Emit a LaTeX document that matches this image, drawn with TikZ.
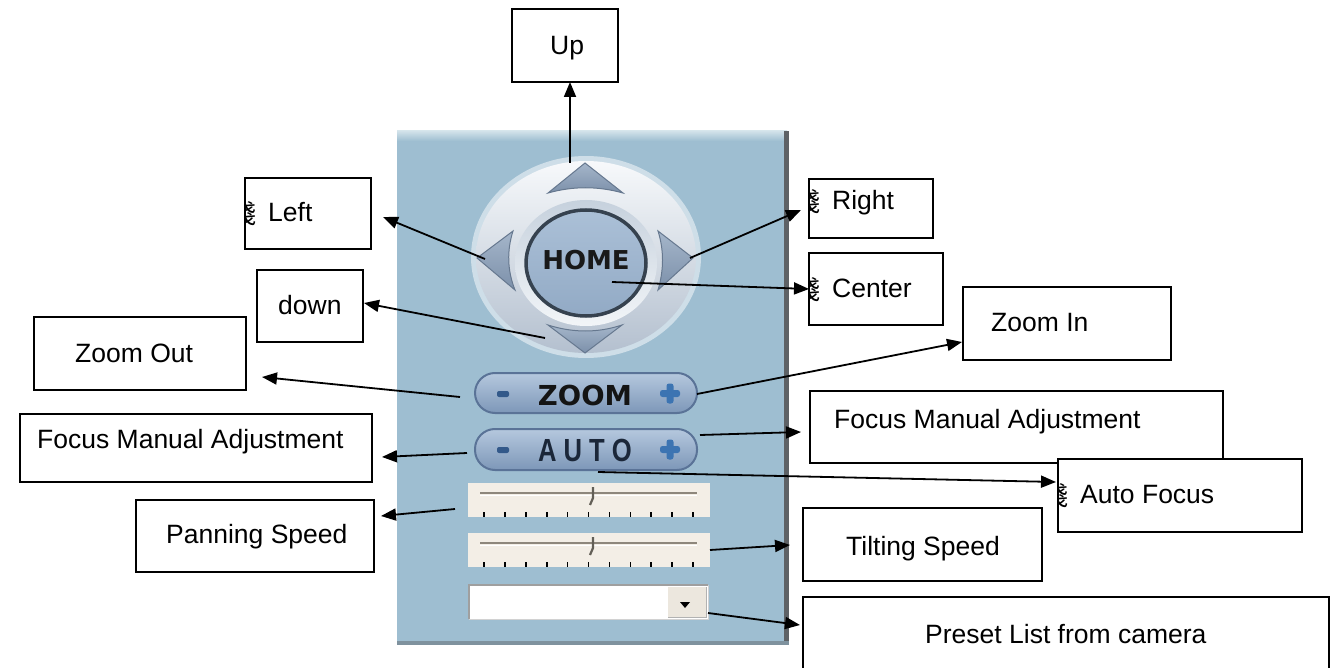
\documentclass[tikz,border=0pt]{standalone}
\usepackage{fontspec}
\setmainfont{Liberation Sans}
\newfontfamily\cjk{Noto Sans CJK TC}
\newfontfamily\dvb{DejaVu Sans}
\newfontfamily\autof[FakeStretch=0.8]{Liberation Sans}
\usetikzlibrary{arrows.meta}
\definecolor{panel}{HTML}{9EBED1}
\definecolor{panelhi}{HTML}{D2E2EA}
\definecolor{edgegray}{HTML}{5E6266}
\definecolor{botgray}{HTML}{7F929E}
\definecolor{tritop}{HTML}{A5B6CA}
\definecolor{tribot}{HTML}{7C90AA}
\definecolor{tridraw}{HTML}{66788F}
\definecolor{pilltop}{HTML}{B5C8DE}
\definecolor{pillbot}{HTML}{7D97B8}
\definecolor{pilldraw}{HTML}{5A7397}
\definecolor{minuscol}{HTML}{33598A}
\definecolor{pluscol}{HTML}{3C74B2}
\definecolor{autonavy}{HTML}{1B2739}
\definecolor{slbg}{HTML}{F3EEE6}
\definecolor{trackc}{HTML}{8E877C}
\definecolor{btnbg}{HTML}{ECE7DE}
\definecolor{homedraw}{HTML}{36424F}
\definecolor{hometop}{HTML}{ABC0D7}
\definecolor{homebot}{HTML}{92AAC5}
\definecolor{disctop}{HTML}{F7F9FB}
\definecolor{discmid}{HTML}{E2E8EE}
\definecolor{discbot}{HTML}{B4C0CF}
\definecolor{ringtop}{HTML}{C6D1DD}
\definecolor{ringbot}{HTML}{F2F5F8}
\begin{document}
\begin{tikzpicture}[x=1pt,y=-1pt,
  box/.style={draw=black, line width=1.8pt, fill=white, inner sep=0pt, outer sep=0pt, anchor=north west},
  lbl/.style={inner sep=0pt, font=\fontsize{26.5}{30}\selectfont, anchor=base west},
  cjkch/.style={inner sep=0pt, font=\cjk\fontsize{26}{30}\selectfont, anchor=base east},
  arr/.style={line width=1.8pt, -{Triangle[length=15pt,width=12pt]}},
  tri/.style={top color=tritop, bottom color=tribot, draw=tridraw, line width=1pt},
  pill/.style={rounded corners=20pt, draw=pilldraw, line width=2pt, top color=pilltop, bottom color=pillbot},
  tick/.style={line width=1.6pt, black}
]
\clip (0,0) rectangle (1338,668);
\fill[white] (0,0) rectangle (1338,668);

% ---------- control panel ----------
\fill[panel] (397,131) rectangle (787,643);
\shade[top color=panelhi, bottom color=panel] (397,131) rectangle (787,141);
\fill[edgegray] (784,131) rectangle (789,645);
\fill[botgray] (397,641) rectangle (789,645);

% joystick
\fill[white, opacity=0.5] (586,257) ellipse [x radius=115pt, y radius=101pt];
\shade[top color=disctop, middle color=discmid, bottom color=discbot] (586,257) ellipse [x radius=110pt, y radius=96pt];
\shade[top color=ringtop, bottom color=ringbot] (586,263) ellipse [x radius=71pt, y radius=63pt];
\shadedraw[top color=hometop, bottom color=homebot, draw=homedraw, line width=3.5pt] (586,263) ellipse [x radius=60pt, y radius=53pt];
\shadedraw[tri] (548,193) -- (585,163) -- (623,193) .. controls (598,186) and (573,186) .. (548,193) -- cycle;
\shadedraw[tri] (477,258) -- (513,231) .. controls (507,250) and (507,270) .. (515,290) -- cycle;
\shadedraw[tri] (693,258) -- (658,231) .. controls (664,250) and (664,270) .. (658,290) -- cycle;
\shadedraw[tri] (585,353) -- (548,325) .. controls (573,333) and (598,333) .. (622,325) -- cycle;
\node[inner sep=0pt, font=\dvb\bfseries\fontsize{26}{30}\selectfont, text=black!90] (home) at (586,260) {HOME};

% zoom pill
\shadedraw[pill] (475,373) rectangle (697,413);
\fill[minuscol, rounded corners=2pt] (497,391) rectangle (509,397);
\fill[pluscol, rounded corners=2.5pt] (660,390) rectangle (680,397);
\fill[pluscol, rounded corners=2.5pt] (666.5,383.5) rectangle (673.5,403.5);
\node[inner sep=0pt, font=\dvb\bfseries\fontsize{27.5}{30}\selectfont, text=black!92] (zoomtxt) at (585,395) {ZOOM};

% auto pill
\shadedraw[pill] (475,429) rectangle (697,470);
\fill[minuscol, rounded corners=2pt] (497,447) rectangle (509,453);
\fill[pluscol, rounded corners=2.5pt] (660,446) rectangle (680,453);
\fill[pluscol, rounded corners=2.5pt] (666.5,439.5) rectangle (673.5,459.5);
\node[inner sep=0pt, font=\autof\bfseries\fontsize{32}{34}\selectfont, text=autonavy] (autotxt) at (585,450) {A\hspace{7pt}U\hspace{7pt}T\hspace{7pt}O};

% sliders
\foreach \dy in {0,50}{
  \fill[slbg] (468,483+\dy) rectangle (710,517+\dy);
  \draw[trackc, line width=2pt] (480,493+\dy) -- (697,493+\dy);
  \draw[white, line width=1pt] (480,495.5+\dy) -- (697,495.5+\dy);
  \draw[trackc!70!black, line width=2.2pt] (593,487+\dy) -- (593,498+\dy) -- (590,505+\dy);
  \foreach \i in {0,...,10}
    \draw[tick] ({484+20.9*\i},512+\dy) -- ++(0,5);
}

% combo box
\fill[white] (469,585) rectangle (708,619);
\draw[gray!75, line width=1.5pt] (469,619) -- (469,585) -- (708,585);
\draw[gray!35, line width=1pt] (708,585) -- (708,619) -- (469,619);
\fill[btnbg] (668,587) rectangle (706,617);
\draw[gray!60, line width=1pt] (668,617) -- (706,617) -- (706,587);
\fill[black] (680,602) -- (690,602) -- (685,608) -- cycle;

% ---------- label boxes ----------
\node[box, minimum width=106pt, minimum height=73pt] (bUp) at (512,9) {};
\node[box, minimum width=126pt, minimum height=71pt] (bLeft) at (245,178) {};
\node[box, minimum width=124pt, minimum height=59pt] (bRight) at (809,179) {};
\node[box, minimum width=134pt, minimum height=72pt] (bCenter) at (809,253) {};
\node[box, minimum width=106pt, minimum height=72pt] (bDown) at (257,270) {};
\node[box, minimum width=212pt, minimum height=73pt] (bZoomOut) at (34,317) {};
\node[box, minimum width=208pt, minimum height=73pt] (bZoomIn) at (963,287) {};
\node[box, minimum width=352pt, minimum height=68pt] (bFocusL) at (20,414) {};
\node[box, minimum width=413pt, minimum height=72pt] (bFocusR) at (810,391) {};
\node[box, minimum width=244pt, minimum height=73pt] (bAuto) at (1058,459) {};
\node[box, minimum width=238pt, minimum height=72pt] (bPan) at (136,500) {};
\node[box, minimum width=239pt, minimum height=73pt] (bTilt) at (803,508) {};
\node[box, minimum width=526pt, minimum height=110pt] (bPreset) at (803,597) {};

% clipped glyphs at the left edge of some boxes
\begin{scope}\clip (245,178) rectangle (371,249);
  \node[cjkch] (cLeft) at (257,224) {綫};\end{scope}
\begin{scope}\clip (809,179) rectangle (933,238);
  \node[cjkch] (cRight) at (821,212) {綫};\end{scope}
\begin{scope}\clip (809,253) rectangle (943,325);
  \node[cjkch] (cCenter) at (821,299) {綫};\end{scope}
\begin{scope}\clip (1058,459) rectangle (1302,532);
  \node[cjkch] (cAuto) at (1069,505) {綫};\end{scope}

% texts
\node[lbl] (tUp) at (550,55) {Up};
\node[lbl] (tLeft) at (268,222) {Left};
\node[lbl] (tRight) at (832,210) {Right};
\node[lbl] (tCenter) at (832,298) {Center};
\node[lbl] (tDown) at (278,314) {down};
\node[lbl] (tZoomOut) at (75,362) {Zoom Out};
\node[lbl] (tZoomIn) at (991,331) {Zoom In};
\node[lbl] (tFocusL) at (37,448) {Focus Manual Adjustment};
\node[lbl] (tFocusR) at (834,428) {Focus Manual Adjustment};
\node[lbl] (tAuto) at (1080,503) {Auto Focus};
\node[lbl] (tPan) at (166,543) {Panning Speed};
\node[lbl] (tTilt) at (846,555) {Tilting Speed};
\node[lbl] (tPreset) at (925,643) {Preset List from camera};

% ---------- connectors ----------
\coordinate (sUp) at (570,163);
\coordinate (sLeft) at (485,259);
\coordinate (sRight) at (690,258);
\coordinate (sCenter) at (612,282);
\coordinate (sDown) at (545,338);
\coordinate (sZoomOut) at (460,397);
\coordinate (sZoomIn) at (697,394);
\coordinate (sFocusL) at (467,453);
\coordinate (sFocusR) at (700,435);
\coordinate (sAuto) at (598,472);
\coordinate (sPan) at (455,509);
\coordinate (sTilt) at (710,550);
\coordinate (sPreset) at (708,613);

\draw[arr] (sUp) -- (sUp |- bUp.south);
\draw[arr] (sLeft) -- ([xshift=12pt,yshift=-3.5pt]bLeft.east);
\draw[arr] (sRight) -- ([xshift=-8pt,yshift=-1.5pt]bRight.west);
\draw[arr] (sCenter) -- (bCenter.west);
\draw[arr] (sDown) -- ([xshift=1pt,yshift=3pt]bDown.east);
\draw[arr] (sZoomOut) -- ([xshift=16pt,yshift=13pt]bZoomOut.south east);
\draw[arr] (sZoomIn) -- ([xshift=-1pt,yshift=-18.5pt]bZoomIn.west);
\draw[arr] (sFocusL) -- ([xshift=10pt,yshift=-9pt]bFocusL.east);
\draw[arr] (sFocusR) -- ([xshift=-9pt,yshift=-5pt]bFocusR.west);
\draw[arr] (sAuto) -- ([xshift=-2pt,yshift=13.5pt]bAuto.west);
\draw[arr] (sPan) -- ([xshift=7pt,yshift=20pt]bPan.east);
\draw[arr] (sTilt) -- ([xshift=-13pt,yshift=-0.5pt]bTilt.west);
\draw[arr] (sPreset) -- ([xshift=-3pt,yshift=-28pt]bPreset.north west);
\end{tikzpicture}
\end{document}
